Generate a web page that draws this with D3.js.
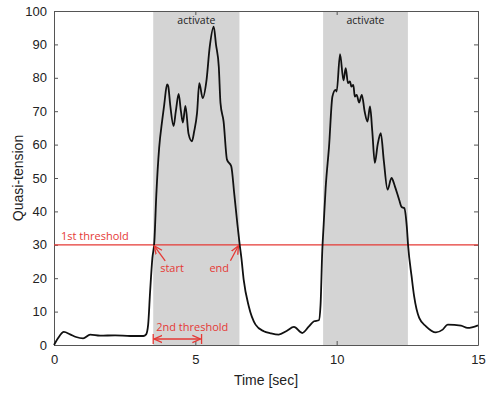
<!DOCTYPE html>
<html>
<head>
<meta charset="utf-8">
<script src="https://cdn.jsdelivr.net/npm/d3@7"></script>
<style>
  body { margin: 0; background: #fff; }
  svg { display: block; }
  .tick text { font-family: "Liberation Sans", Arial, sans-serif; font-size: 13px; fill: #222; }
</style>
</head>
<body>
<div id="chart"></div>
<script>
// time [sec] and quasi-tension
var times = [0, 0.14, 0.35, 0.57, 0.78, 1.03, 1.28, 1.63, 2.16, 2.70, 3.16, 3.26, 3.33, 3.40, 3.48,
  3.55, 3.62, 3.72, 3.83, 3.90, 4.00, 4.04, 4.11, 4.23, 4.31, 4.41, 4.49, 4.56, 4.65, 4.76,
  4.88, 4.96, 5.06, 5.14, 5.26, 5.39, 5.51, 5.65, 5.73, 5.83, 5.89, 6.00, 6.12, 6.27, 6.38,
  6.49, 6.57, 6.63, 6.71, 6.89, 7.13, 7.42, 7.66, 7.95, 8.23, 8.49, 8.78, 9.01, 9.20, 9.37,
  9.43, 9.49, 9.54, 9.61, 9.73, 9.85, 9.96, 10.0, 10.12, 10.24, 10.32, 10.40, 10.47, 10.52,
  10.59, 10.64, 10.71, 10.79, 10.89, 10.99, 11.09, 11.18, 11.26, 11.35, 11.45, 11.56, 11.67,
  11.80, 11.94, 12.06, 12.21, 12.30, 12.39, 12.48, 12.53, 12.65, 12.74, 12.92, 13.16, 13.51,
  13.75, 13.93, 14.40, 14.63, 15.0];
var tension = [0, 2, 3.9, 3.2, 2.4, 2.0, 3.1, 2.8, 2.9, 2.7, 2.7, 3.2, 6, 16, 26,
  31, 45, 59, 67.4, 72, 78, 77.5, 72, 65.6, 70, 75.2, 70, 66.6, 71.6, 63.2,
  61, 64, 69.4, 78.4, 73.9, 78.9, 89.3, 95.3, 90, 83.3, 72.4, 66.9, 55.5, 53.5, 45,
  36, 30, 26, 19.6, 11.6, 6.1, 4.1, 3.5, 3.1, 4.2, 5.4, 3.6, 5.5, 7.1, 7.4,
  12, 28, 36, 47, 59.4, 74.4, 76.4, 75.9, 87.1, 79.2, 82.9, 78.4, 78.9, 77.4,
  77.9, 74.4, 74.9, 72.6, 74.9, 69.9, 66.9, 71.4, 64, 54.5, 60, 63.4, 55,
  46.5, 50, 47.5, 43.5, 41.3, 41, 35.5, 29.5, 20.6, 14.6, 8.1, 5.6, 3.8,
  4.6, 6.1, 5.8, 5.1, 5.9];

var activeStart = [3.51, 9.52];
var activeEnd = [6.56, 12.52];
var threshold1 = 30;
var threshold2 = [3.51, 5.22];
var xTicks = [0, 5, 10, 15];
var yTicks = [0, 10, 20, 30, 40, 50, 60, 70, 80, 90, 100];

var W = 494, H = 395;
var margin = {top: 11, right: 16, bottom: 50, left: 54};
var width = W - margin.left - margin.right,
    height = H - margin.top - margin.bottom;

var red = "#e53935";

var svg = d3.select("#chart").append("svg")
    .attr("width", W).attr("height", H)
  .append("g")
    .attr("transform", "translate(" + margin.left + "," + margin.top + ")");

var x = d3.scaleLinear().domain([0, 15]).range([0, width]);
var y = d3.scaleLinear().domain([0, 100]).range([height, 0]);

// shaded "activate" bands
svg.selectAll(".band")
    .data(activeStart)
  .enter().append("rect")
    .attr("class", "band")
    .attr("x", function(d) { return x(d); })
    .attr("y", 0)
    .attr("width", function(d, i) { return x(activeEnd[i]) - x(d); })
    .attr("height", height)
    .attr("fill", "#d4d4d4");

svg.selectAll(".bandlabel")
    .data(activeStart)
  .enter().append("text")
    .attr("x", function(d, i) { return (x(d) + x(activeEnd[i])) / 2; })
    .attr("y", 13)
    .attr("text-anchor", "middle")
    .style("font-family", "'Open Sans', sans-serif")
    .style("font-size", "10.5px")
    .style("fill", "#222")
    .text("activate");

// axes, matlab style ticks pointing in
function styleAxis(g) {
  g.select(".domain").attr("stroke", "#555");
  g.selectAll(".tick line").attr("stroke", "#555");
}
svg.append("g")
    .attr("transform", "translate(0," + height + ")")
    .call(d3.axisBottom(x).tickValues(xTicks).tickSizeInner(-4).tickSizeOuter(0).tickPadding(10))
    .call(styleAxis);
svg.append("g")
    .call(d3.axisLeft(y).tickValues(yTicks).tickSizeInner(-4).tickSizeOuter(0).tickPadding(7))
    .call(styleAxis);
svg.append("g")
    .call(d3.axisTop(x).tickValues(xTicks).tickSizeInner(-4).tickSizeOuter(0).tickFormat(""))
    .call(styleAxis);
svg.append("g")
    .attr("transform", "translate(" + width + ",0)")
    .call(d3.axisRight(y).tickValues(yTicks).tickSizeInner(-4).tickSizeOuter(0).tickFormat(""))
    .call(styleAxis);

// threshold line
svg.append("line")
    .attr("x1", 0).attr("x2", width)
    .attr("y1", y(threshold1)).attr("y2", y(threshold1))
    .attr("stroke", red).attr("stroke-width", 1.3);

// signal
var line = d3.line()
    .x(function(d, i) { return x(times[i]); })
    .y(function(d) { return y(d); })
    .curve(d3.curveMonotoneX);
svg.append("path")
    .datum(tension)
    .attr("d", line)
    .attr("fill", "none")
    .attr("stroke", "#111")
    .attr("stroke-width", 1.8)
    .attr("stroke-linejoin", "round");

// red annotations
var defs = svg.append("defs");
defs.append("marker")
    .attr("id", "arr")
    .attr("viewBox", "0 0 10 10")
    .attr("refX", 9).attr("refY", 5)
    .attr("markerWidth", 7).attr("markerHeight", 7)
    .attr("orient", "auto-start-reverse")
  .append("path")
    .attr("d", "M0,1 L9,5 L0,9")
    .attr("fill", "none")
    .attr("stroke", red)
    .attr("stroke-width", 1.5);

var note = function(sel) {
  sel.style("font-family", "'Open Sans', sans-serif")
     .style("font-size", "11px")
     .style("fill", red);
};

svg.append("text").attr("x", 7).attr("y", y(threshold1) - 5).text("1st threshold").call(note);
svg.append("text").attr("x", x(activeStart[0]) + 7).attr("y", y(threshold1) + 27).text("start").call(note);
svg.append("text").attr("x", x(activeEnd[0]) - 30).attr("y", y(threshold1) + 27).text("end").call(note);

svg.append("line")
    .attr("x1", x(activeStart[0]) + 12).attr("y1", y(threshold1) + 16)
    .attr("x2", x(activeStart[0]) + 1).attr("y2", y(threshold1) + 1)
    .attr("stroke", red).attr("stroke-width", 1.3)
    .attr("marker-end", "url(#arr)");
svg.append("line")
    .attr("x1", x(activeEnd[0]) - 9).attr("y1", y(threshold1) + 16)
    .attr("x2", x(activeEnd[0]) - 1).attr("y2", y(threshold1) + 1)
    .attr("stroke", red).attr("stroke-width", 1.3)
    .attr("marker-end", "url(#arr)");

// 2nd threshold span
var spanY = height - 6;
svg.append("text").attr("x", x(threshold2[0]) + 3).attr("y", height - 14)
    .text("2nd threshold").call(note);
svg.append("line")
    .attr("x1", x(threshold2[0]) + 1).attr("x2", x(threshold2[1]) - 1)
    .attr("y1", spanY).attr("y2", spanY)
    .attr("stroke", red).attr("stroke-width", 1.3)
    .attr("marker-start", "url(#arr)")
    .attr("marker-end", "url(#arr)");
svg.selectAll(".spanend")
    .data(threshold2)
  .enter().append("line")
    .attr("x1", function(d) { return x(d); }).attr("x2", function(d) { return x(d); })
    .attr("y1", spanY - 5).attr("y2", spanY + 5)
    .attr("stroke", red).attr("stroke-width", 1.3);

// axis titles
svg.append("text")
    .attr("x", width / 2).attr("y", height + 40)
    .attr("text-anchor", "middle")
    .style("font-family", "'Liberation Sans', Arial, sans-serif")
    .style("font-size", "14px").style("fill", "#222")
    .text("Time [sec]");
svg.append("text")
    .attr("transform", "translate(-31," + height / 2 + ") rotate(-90)")
    .attr("text-anchor", "middle")
    .style("font-family", "'Liberation Sans', Arial, sans-serif")
    .style("font-size", "14px").style("fill", "#222")
    .text("Quasi-tension");
</script>
</body>
</html>
